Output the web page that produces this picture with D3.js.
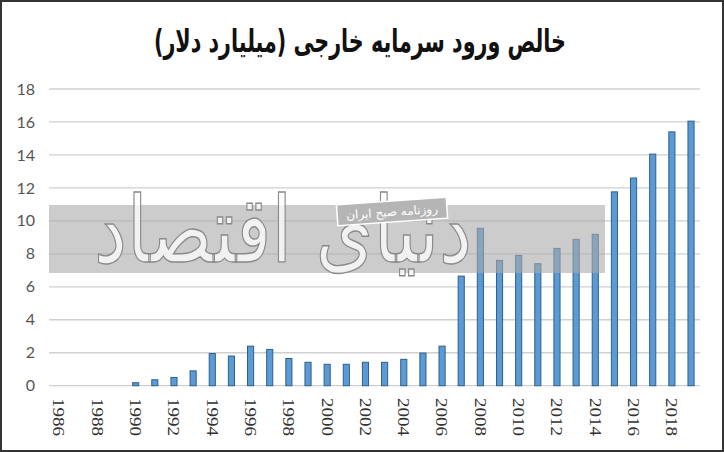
<!DOCTYPE html>
<html><head><meta charset="utf-8">
<script src="https://cdn.jsdelivr.net/npm/d3@7"></script>
<style>body{margin:0;background:#fff}svg{display:block}</style>
</head><body>
<svg id="c" width="724" height="452"></svg>
<script>
const title = "خالص ورود سرمایه خارجی (میلیارد دلار)";
const years = d3.range(1986, 2020).map(String);
const values = [0,0,0,0,0.18,0.36,0.5,0.9,1.95,1.8,2.4,2.2,1.65,1.42,1.3,1.3,1.42,1.42,1.6,1.98,2.4,6.65,9.55,7.6,7.9,7.4,8.33,8.88,9.18,11.76,12.6,14.05,15.4,16.05];
const yTicks = [0,2,4,6,8,10,12,14,16,18];
const xTickLabels = years.filter((d,i)=>i%2===0);
const watermark = "دنیای اقتصاد";
const watermarkTag = "روزنامه صبح ایران";

const svg = d3.select("#c");
const x = d3.scaleBand().domain(years).range([49.5,700.6]).paddingInner(0.68).paddingOuter(0.34);
const y = d3.scaleLinear().domain([0,18]).range([385.7,89]);

// title
svg.append("text").attr("transform","translate(360,52) scale(1,1.2)").attr("text-anchor","middle")
  .attr("font-family","DejaVu Sans").attr("font-weight","bold").attr("font-size",26)
  .attr("fill","#111").attr("direction","rtl")
  .attr("textLength",412).attr("lengthAdjust","spacingAndGlyphs").text(title);

// gridlines
svg.append("g").selectAll("line").data(yTicks).join("line")
  .attr("x1",49).attr("x2",700).attr("y1",d=>y(d)).attr("y2",d=>y(d))
  .attr("stroke","#d0d0d0").attr("stroke-width",1.3);

// y labels
const yAxis = d3.axisLeft(y).tickValues(yTicks).tickSize(0).tickPadding(0);
const gy = svg.append("g").attr("transform","translate(35,0)").call(yAxis);
gy.select(".domain").remove();
gy.selectAll("text").attr("font-family","Lato").attr("font-size",16).attr("fill","#555");

// bars
svg.append("g").selectAll("rect").data(values).join("rect")
  .attr("x",(d,i)=>x(years[i])).attr("width",x.bandwidth())
  .attr("y",d=>y(d)).attr("height",d=>y(0)-y(d))
  .attr("fill","#5b9bd5").attr("stroke","#2f5f8c").attr("stroke-width",1)
  .attr("display",d=>d>0?null:"none");

// x labels
const xAxis = d3.axisBottom(x).tickValues(xTickLabels).tickSize(0).tickPadding(0);
const gx = svg.append("g").attr("transform","translate(0,398)").call(xAxis);
gx.select(".domain").remove();
gx.selectAll("text").attr("font-family","Liberation Serif").attr("font-size",17).attr("fill","#333")
  .attr("transform","rotate(90)").attr("text-anchor","start").attr("x",0).attr("y",0).attr("dy","0.33em")
  .attr("textLength",38).attr("lengthAdjust","spacingAndGlyphs");

// watermark band
svg.append("rect").attr("x",49).attr("y",205).attr("width",556).attr("height",68)
  .attr("fill","#aaaaaa").attr("opacity",0.6);

// watermark logo text
svg.append("text").attr("x",472).attr("y",262).attr("text-anchor","start").attr("direction","rtl")
  .attr("font-family","DejaVu Sans").attr("font-size",92)
  .attr("fill","#fff").attr("fill-opacity",0.75).attr("stroke","#8a8a8a").attr("stroke-width",1.4)
  .attr("textLength",378).attr("lengthAdjust","spacingAndGlyphs")
  .text(watermark);

// tag
const tag = svg.append("g").attr("transform","translate(392,211) rotate(-4)");
tag.append("rect").attr("x",-55).attr("y",-10).attr("width",110).attr("height",21)
  .attr("fill","#b5b5b5").attr("stroke","#fff").attr("stroke-width",1.5);
tag.append("text").attr("x",0).attr("y",5).attr("text-anchor","middle").attr("direction","rtl")
  .attr("font-family","DejaVu Sans").attr("font-size",12).attr("fill","#fff").text(watermarkTag);

// frame
svg.append("rect").attr("x",1).attr("y",1).attr("width",722).attr("height",450)
  .attr("fill","none").attr("stroke","#333").attr("stroke-width",2);
</script>
</body></html>
